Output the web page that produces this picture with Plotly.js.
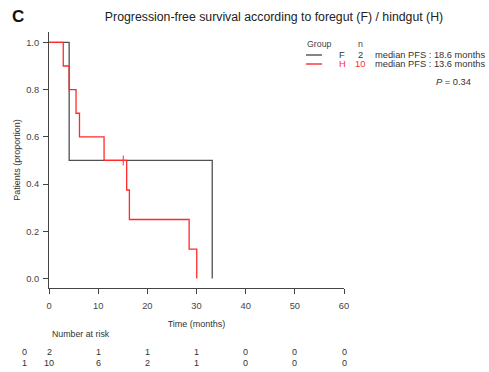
<!DOCTYPE html>
<html>
<head>
<meta charset="utf-8">
<script src="https://cdn.plot.ly/plotly-3.0.1.min.js"></script>
<style>html,body{margin:0;padding:0;background:#fff;}#chart{width:489px;height:372px;}</style>
</head>
<body>
<div id="chart"></div>
<script>
// ---- data ----
const groupNames = ["F", "H"];
const groupN = [2, 10];
const medianPFS = ["18.6", "13.6"];
const pValue = "0.34";

const timeF = [0, 4.1, 33.2];
const survF = [1.0, 0.5, 0.0];

const timeH = [0, 2.9, 4.1, 5.5, 6.2, 11.2, 15.8, 16.35, 28.5, 30.05];
const survH = [1.0, 0.9, 0.8, 0.7, 0.6, 0.5, 0.375, 0.25, 0.125, 0.0];

const censorTimeH = [15.1];
const censorSurvH = [0.5];

const xTicks = [0, 10, 20, 30, 40, 50, 60];
const yTicks = [0, 0.2, 0.4, 0.6, 0.8, 1.0];
const riskLabels = ["0", "1"];
const atRiskF = [2, 1, 1, 1, 0, 0, 0];
const atRiskH = [10, 6, 2, 1, 0, 0, 0];

// ---- styling / layout ----
const W = 489, H = 372;
const ML = 49, MR = 145, MT = 32, MB = 84;
const plotW = W - ML - MR, plotH = H - MT - MB;
const px = x => (x - ML) / plotW;          // pixel -> paper x
const py = y => (H - MB - y) / plotH;       // pixel -> paper y
const FONT = "Liberation Sans, Arial, Helvetica, sans-serif";
const colF = "#505050", colH = "#ff2a2a", txt = "#333";

const traces = [
  {x: timeF, y: survF, type: "scatter", mode: "lines", line: {shape: "hv", color: colF, width: 1.3}, name: "F", hoverinfo: "skip"},
  {x: timeH, y: survH, type: "scatter", mode: "lines", line: {shape: "hv", color: colH, width: 1.3}, name: "H", hoverinfo: "skip"},
  {x: censorTimeH, y: censorSurvH, type: "scatter", mode: "markers",
   marker: {symbol: "line-ns", size: 7, line: {color: colH, width: 1}}, hoverinfo: "skip"}
];

const ann = [];
const A = (text, x, y, opts) => ann.push(Object.assign({
  text, x, y, xref: "paper", yref: "paper", showarrow: false,
  xanchor: "center", yanchor: "middle", font: {family: FONT, size: 9.3, color: txt}
}, opts || {}));

A("<b>C</b>", px(10), py(16), {xanchor: "left", font: {family: FONT, size: 17, color: "#111"}});
A("Group", px(319.5), py(44), {font: {family: FONT, size: 8.8, color: "#444"}});
A("n", px(360), py(44), {font: {family: FONT, size: 8.8, color: "#444"}});
const rowY = [55, 64];
const rowCol = ["#333", colH];
for (let i = 0; i < groupNames.length; i++) {
  A(groupNames[i], px(342), py(rowY[i]), {font: {family: FONT, size: 9.3, color: rowCol[i]}});
  A(String(groupN[i]), px(360), py(rowY[i]), {font: {family: FONT, size: 9.3, color: rowCol[i]}});
  A("median PFS : " + medianPFS[i] + " months", px(373), py(rowY[i]), {xanchor: "left"});
}
A("<i>P</i> = " + pValue, px(434), py(82), {xanchor: "left"});
A("Number at risk", px(50), py(334), {xanchor: "left", font: {family: FONT, size: 8.8, color: "#333"}});

const riskRows = [atRiskF, atRiskH];
const riskY = [352, 363];
for (let r = 0; r < riskRows.length; r++) {
  A(riskLabels[r], px(24), py(riskY[r]), {font: {family: FONT, size: 9, color: "#333"}});
  for (let k = 0; k < xTicks.length; k++) {
    ann.push({text: String(riskRows[r][k]), x: xTicks[k], xref: "x", y: py(riskY[r]), yref: "paper",
      showarrow: false, xanchor: "center", yanchor: "middle", font: {family: FONT, size: 9, color: "#333"}});
  }
}

const shapes = [
  {type: "line", xref: "paper", yref: "paper", x0: px(306), x1: px(322), y0: py(55), y1: py(55), line: {color: colF, width: 1.4}},
  {type: "line", xref: "paper", yref: "paper", x0: px(306), x1: px(322), y0: py(64), y1: py(64), line: {color: colH, width: 1.4}}
];

const layout = {
  width: W, height: H,
  margin: {l: ML, r: MR, t: MT, b: MB, pad: 0},
  paper_bgcolor: "#fff", plot_bgcolor: "#fff",
  showlegend: false,
  title: {text: "Progression-free survival according to foregut (F) / hindgut (H)",
          x: 274 / W, xanchor: "center", y: 1 - 17 / H, yanchor: "middle",
          font: {family: FONT, size: 12.3, color: "#222"}},
  xaxis: {range: [0, 60], tickvals: xTicks, ticks: "outside", ticklen: 5, tickcolor: "#444",
          showline: true, linecolor: "#444", linewidth: 1, showgrid: false, zeroline: false,
          ticklabelstandoff: 4,
          tickfont: {family: FONT, size: 9.3, color: "#444"},
          title: {text: "Time (months)", standoff: 10, font: {family: FONT, size: 9, color: "#333"}}},
  yaxis: {range: [-0.04, 1.044], tickvals: yTicks, tickformat: ".1f", ticks: "outside", ticklen: 5, tickcolor: "#444",
          showline: true, linecolor: "#444", linewidth: 1, showgrid: false, zeroline: false,
          ticklabelstandoff: 2,
          tickfont: {family: FONT, size: 9.3, color: "#444"},
          title: {text: "Patients (proportion)", standoff: 4, font: {family: FONT, size: 9, color: "#333"}}},
  annotations: ann,
  shapes: shapes
};

Plotly.newPlot("chart", traces, layout, {staticPlot: true, displayModeBar: false});
</script>
</body>
</html>
